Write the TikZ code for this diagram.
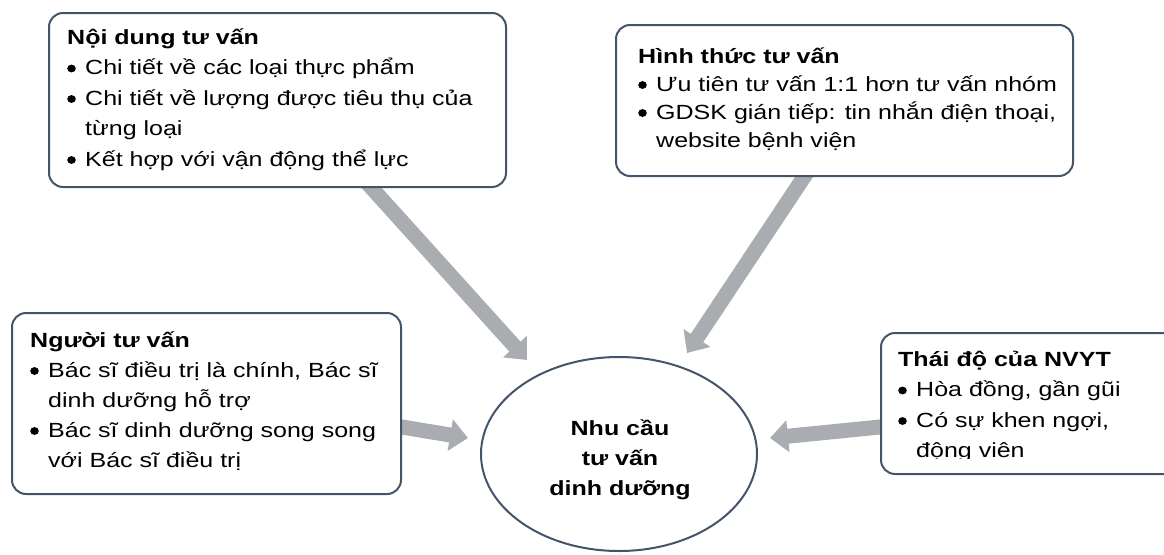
\documentclass[tikz,border=0pt]{standalone}
\usepackage{fontspec}
\setmainfont{Liberation Sans}[FakeStretch=1.22]
\usetikzlibrary{shapes.geometric,arrows.meta}
\definecolor{bordercol}{HTML}{44546A}
\definecolor{arrowcol}{HTML}{A9ACB1}
\newcommand\dotmark{\tikz[baseline=0pt]\fill[black] (4.5pt,6pt) ellipse[x radius=4.3pt,y radius=3.9pt];}
\newcommand\bul[1]{\par\hangindent=18pt\hangafter=1\noindent\makebox[18pt][l]{\dotmark}#1}
\newcommand\boxtxt[2]{\parbox[t]{#1}{\raggedright\noindent #2}}
\tikzset{
  box/.style={draw=bordercol, line width=2pt, rounded corners=14pt, fill=white, inner sep=0pt, anchor=north west},
  txt/.style={inner sep=0pt, anchor=base west, font=\fontsize{20.5}{30.5}\selectfont},
  garrow/.style={draw=arrowcol, line width=15pt, -{Triangle[width=31pt,length=18pt]}},
  center/.style={ellipse, draw=bordercol, line width=2pt, fill=white, minimum width=276pt, minimum height=194pt, inner sep=0pt},
  ctext/.style={inner sep=0pt, align=center, font=\fontsize{20.5}{30}\selectfont\bfseries}
}
\begin{document}
\begin{tikzpicture}[x=1pt,y=-1pt]
\useasboundingbox (0,0) rectangle (1164,554);
\clip (0,0) rectangle (1164,554);
% arrows
\coordinate (a1s) at (360,175);
\coordinate (a1e) at (527,360);
\coordinate (a2s) at (812,165);
\coordinate (a2e) at (687,353);
\coordinate (a3s) at (390,425);
\coordinate (a3e) at (468,438);
\coordinate (a4s) at (890,426);
\coordinate (a4e) at (770,438);
\draw[garrow] (a1s) -- (a1e);
\draw[garrow] (a2s) -- (a2e);
\draw[garrow] (a3s) -- (a3e);
\draw[garrow] (a4s) -- (a4e);
% boxes
\node[box, minimum width=457pt, minimum height=174pt] (b1) at (48,12) {};
\node[box, minimum width=457pt, minimum height=151pt] (b2) at (615,24) {};
\node[box, minimum width=389pt, minimum height=181pt] (b3) at (11,312) {};
\node[box, minimum width=310pt, minimum height=141pt] (b4) at (880,332) {};
\node[center] (c) at (619,454) {};
\node[ctext] (ct) at (620,460) {Nhu cầu\\tư vấn\\dinh dưỡng};
% texts
\node[txt] (t1) at (67,44) {\boxtxt{440pt}{\textbf{Nội dung tư vấn}
\bul{Chi tiết về các loại thực phẩm}
\bul{Chi tiết về lượng được tiêu thụ của\newline từng loại}
\bul{Kết hợp với vận động thể lực}}};
\node[txt, font=\fontsize{20.5}{28}\selectfont] (t2) at (638,63) {\boxtxt{440pt}{\textbf{Hình thức tư vấn}
\bul{Ưu tiên tư vấn 1:1 hơn tư vấn nhóm}
\bul{GDSK gián tiếp: tin nhắn điện thoại,\newline website bệnh viện}}};
\node[txt, font=\fontsize{20.5}{30}\selectfont] (t3) at (30,347) {\boxtxt{380pt}{\textbf{Người tư vấn}
\bul{Bác sĩ điều trị là chính, Bác sĩ\newline dinh dưỡng hỗ trợ}
\bul{Bác sĩ dinh dưỡng song song\newline với Bác sĩ điều trị}}};
\begin{scope}
\clip (880,332) rectangle (1164,458.5);
\node[txt, font=\fontsize{20.5}{30.5}\selectfont] (t4) at (898,366) {\boxtxt{280pt}{\textbf{Thái độ của NVYT}
\bul{Hòa đồng, gần gũi}
\bul{Có sự khen ngợi,\newline động viên}}};
\end{scope}
\end{tikzpicture}
\end{document}
